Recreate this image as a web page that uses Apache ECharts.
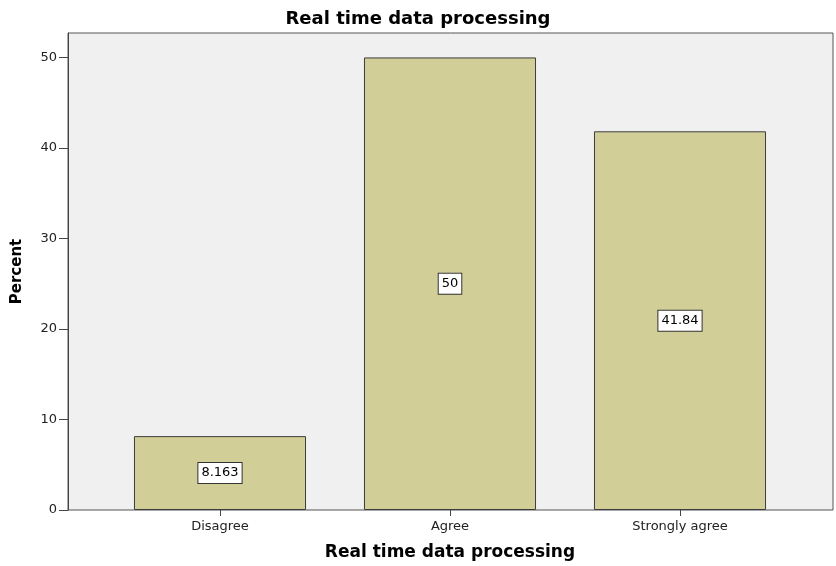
<!DOCTYPE html>
<html>
<head>
<meta charset="utf-8">
<script src="https://cdn.jsdelivr.net/npm/echarts@6/dist/echarts.min.js"></script>
<style>
  html, body { margin: 0; padding: 0; background: #ffffff; }
  #chart { width: 836px; height: 566px; }
</style>
</head>
<body>
<div id="chart"></div>
<script>
// Response categories and their percentages
const categories = ['Disagree', 'Agree', 'Strongly agree'];
const percentValues = [8.163, 50, 41.84];
const valueLabels = ['8.163', '50', '41.84'];
const yTicks = [0, 10, 20, 30, 40, 50];

const chart = echarts.init(document.getElementById('chart'), null, { renderer: 'canvas' });
const labelFont = 'DejaVu Sans, Verdana, sans-serif';
const yMax = 52.7;

chart.setOption({
  backgroundColor: '#ffffff',
  animation: false,
  title: {
    text: 'Real time data processing',
    left: 'center',
    top: 5,
    textStyle: { fontFamily: labelFont, fontSize: 18, fontWeight: 'bold', color: '#000' }
  },
  grid: [
    // outer frame holding the value axis
    {
      left: 68, right: 3, top: 33, bottom: 56,
      outerBoundsMode: 'none',
      containLabel: false,
      show: true,
      backgroundColor: '#f0f0f0',
      borderColor: '#555555',
      borderWidth: 1
    },
    // inner band area where the bars sit, inset from the frame
    { left: 105, right: 41, top: 33, bottom: 56, outerBoundsMode: 'none', containLabel: false }
  ],
  xAxis: [
    { gridIndex: 0, type: 'value', show: false, min: 0, max: 1 },
    {
      gridIndex: 1,
      type: 'category',
      data: categories,
      name: 'Real time data processing',
      nameLocation: 'middle',
      nameGap: 34,
      nameTextStyle: { fontFamily: labelFont, fontSize: 17, fontWeight: 'bold', color: '#000' },
      axisLine: { show: false },
      axisTick: { show: true, alignWithLabel: true, length: 6, lineStyle: { color: '#444' } },
      axisLabel: { fontFamily: labelFont, fontSize: 13, color: '#222', margin: 10 },
      splitLine: { show: false }
    }
  ],
  yAxis: [
    {
      gridIndex: 0,
      type: 'value',
      min: 0,
      max: yMax,
      interval: 10,
      name: 'Percent',
      nameLocation: 'middle',
      nameGap: 43,
      nameRotate: 90,
      nameTextStyle: { fontFamily: labelFont, fontSize: 15, fontWeight: 'bold', color: '#000' },
      axisLine: { show: true, lineStyle: { color: '#444', width: 1 } },
      axisTick: { show: true, length: 9, lineStyle: { color: '#444' }, customValues: yTicks },
      axisLabel: {
        fontFamily: labelFont, fontSize: 13, color: '#222', margin: 11,
        customValues: yTicks
      },
      splitLine: { show: false }
    },
    { gridIndex: 1, type: 'value', show: false, min: 0, max: yMax }
  ],
  series: [{
    type: 'bar',
    xAxisIndex: 1,
    yAxisIndex: 1,
    data: percentValues,
    barWidth: '74.8%',
    itemStyle: { color: '#d2ce98', borderColor: '#3c3c3c', borderWidth: 1 },
    label: {
      show: true,
      position: 'inside',
      formatter: p => valueLabels[p.dataIndex],
      fontFamily: labelFont,
      fontSize: 13,
      color: '#000',
      backgroundColor: '#ffffff',
      borderColor: '#333333',
      borderWidth: 1,
      padding: [4, 3, 3, 3]
    }
  }]
});
</script>
</body>
</html>
